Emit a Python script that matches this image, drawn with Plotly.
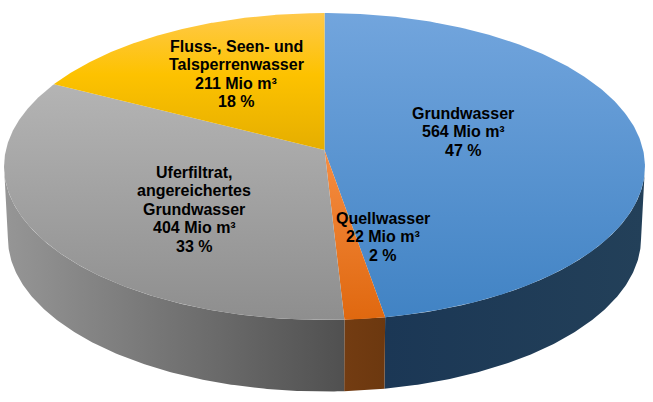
import numpy as np
import plotly.graph_objects as go

# Data
categories = ["Grundwasser", "Quellwasser", "Uferfiltrat, angereichertes Grundwasser", "Fluss-, Seen- und Talsperrenwasser"]
volumes = [564, 22, 404, 211]
percent_labels = ["47 %", "2 %", "33 %", "18 %"]

# Label text (lines above the "Mio m³" and percent rows)
name_lines = [["Grundwasser"], ["Quellwasser"], ["Uferfiltrat,", "angereichertes", "Grundwasser"], ["Fluss-, Seen- und", "Talsperrenwasser"]]

# Styling: colour stops from the bottom of the face to its top
top_scales = [
    [[0, "#4183c4"], [1, "#72a5dd"]],
    [[0, "#e0680f"], [1, "#f58d42"]],
    [[0, "#8e8e8e"], [1, "#b4b4b4"]],
    [[0, "#e5ae00"], [0.55, "#fdc200"], [1, "#ffc94a"]],
]
wall_colors = [("#1b3755", "#234059"), ("#733c12", "#6c380f"), ("#969696", "#505050"), ("#000000", "#000000")]
label_x = [463, 383, 194, 236]
label_y = [113, 218, 172, 46]
line_step = 18.6

# Projection of the tilted disc
CX, CY = 324.5, 150.0
P = 0.1075
A, B = 318.6, 151.7
DEPTH, X_SCALE, Y_SCALE = 71.5, 0.988, 1.0
WARP = np.radians(1.15)


def project(t, lower=False):
    u, v = np.sin(t), np.cos(t)
    d = 1 + P * v
    x, y = A * u / d, -B * v / d
    if lower:
        return CX + x * X_SCALE, CY + DEPTH + y * Y_SCALE
    return CX + x, CY + y


total = sum(volumes)
edges = 2 * np.pi * np.cumsum([0] + volumes) / total
edges = edges + WARP * (1 - np.cos(edges)) / 2
t_right = np.arccos(-P)
t_left = 2 * np.pi - t_right

fig = go.Figure()

# Side walls
for i in range(len(volumes)):
    a, b = max(edges[i], t_right), min(edges[i + 1], t_left)
    if b <= a:
        continue
    t = np.linspace(a, b, 160)
    xt, yt = project(t)
    xb, yb = project(t[::-1], lower=True)
    fig.add_trace(go.Scatter(
        x=np.r_[xt, xb, xt[0]], y=np.r_[yt, yb, yt[0]], mode="lines", fill="toself",
        line=dict(width=0), hoverinfo="skip", showlegend=False,
        fillgradient=dict(type="horizontal", colorscale=[[0, wall_colors[i][0]], [1, wall_colors[i][1]]]),
    ))

# Top faces
for i, name in enumerate(categories):
    t = np.linspace(edges[i], edges[i + 1], 240)
    xt, yt = project(t)
    fig.add_trace(go.Scatter(
        x=np.r_[CX, xt, CX], y=np.r_[CY, yt, CY], mode="lines", fill="toself",
        line=dict(width=0), name=name, showlegend=False, hoverinfo="name",
        fillgradient=dict(type="vertical", colorscale=top_scales[i]),
    ))

# Labels
for i in range(len(volumes)):
    lines = name_lines[i] + [f"{volumes[i]} Mio m³", percent_labels[i]]
    for j, line in enumerate(lines):
        fig.add_annotation(x=label_x[i], y=label_y[i] + j * line_step, text=f"<b>{line}</b>",
                           showarrow=False, xanchor="center", yanchor="middle",
                           font=dict(family="Liberation Sans, Arial", size=16, color="#000000"))

fig.update_layout(
    width=653, height=402, margin=dict(l=0, r=0, t=0, b=0),
    paper_bgcolor="white", plot_bgcolor="white", showlegend=False,
    xaxis=dict(range=[0, 653], visible=False, fixedrange=True),
    yaxis=dict(range=[402, 0], visible=False, fixedrange=True),
)
fig.write_html("out.html", config={"displayModeBar": False},
               post_script="document.body.style.margin='0';document.body.style.overflow='hidden';")
